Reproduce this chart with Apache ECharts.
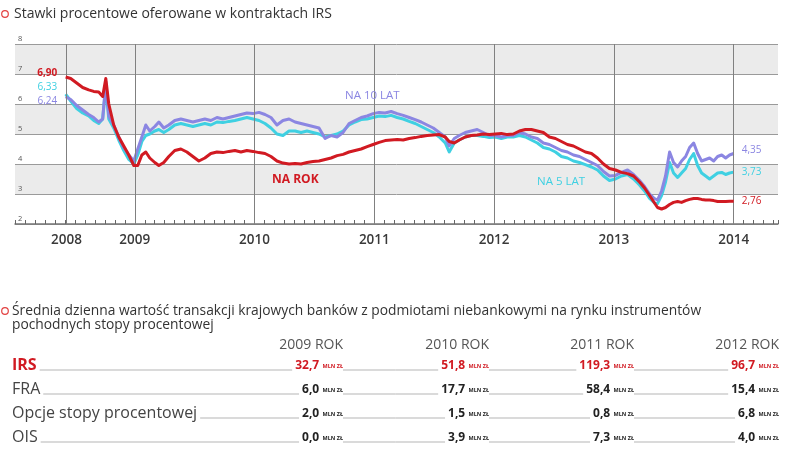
<!DOCTYPE html>
<html><head><meta charset="utf-8">
<script src="https://cdn.jsdelivr.net/npm/echarts@6/dist/echarts.min.js"></script>
<style>html,body{margin:0;padding:0;background:#fff}#c{width:805px;height:456px}</style>
</head><body><div id="c"></div>
<script>
// ---- chart data (decimal years) ----
const dates = [2008.423,2008.465,2008.515,2008.565,2008.615,2008.657,2008.699,2008.732,2008.758,2008.783,2008.824,2008.866,2008.908,2008.950,2008.992,
2009.025,2009.059,2009.092,2009.125,2009.167,2009.201,2009.242,2009.284,2009.334,2009.385,2009.435,2009.485,2009.535,2009.585,2009.635,2009.686,2009.736,2009.786,2009.836,2009.886,2009.936,2009.987,
2010.037,2010.087,2010.137,2010.187,2010.237,2010.288,2010.338,2010.388,2010.438,2010.488,2010.538,2010.589,2010.639,2010.689,2010.739,2010.789,2010.839,2010.890,2010.940,2010.990,
2011.040,2011.090,2011.140,2011.191,2011.241,2011.291,2011.341,2011.391,2011.441,2011.492,2011.542,2011.592,2011.625,2011.667,2011.709,2011.759,2011.809,2011.859,2011.910,2011.960,
2012.010,2012.060,2012.110,2012.160,2012.211,2012.261,2012.311,2012.361,2012.411,2012.461,2012.512,2012.562,2012.612,2012.662,2012.712,2012.762,2012.813,2012.863,2012.913,2012.963,
2013.013,2013.063,2013.114,2013.164,2013.214,2013.256,2013.298,2013.339,2013.364,2013.398,2013.431,2013.465,2013.498,2013.532,2013.565,2013.599,2013.632,2013.666,2013.699,2013.732,2013.766,2013.799,2013.833,2013.866,2013.900,2013.933,2013.966,2014.000];
const rate1y = [6.90,6.85,6.70,6.55,6.47,6.42,6.40,6.25,6.85,6.00,5.30,4.90,4.60,4.30,3.95,
3.95,4.30,4.40,4.20,4.05,3.95,4.05,4.25,4.45,4.50,4.40,4.25,4.10,4.20,4.35,4.40,4.38,4.42,4.45,4.40,4.45,4.42,
4.38,4.35,4.25,4.10,4.03,4.00,4.02,4.00,4.05,4.08,4.10,4.15,4.20,4.28,4.32,4.40,4.45,4.50,4.58,4.65,
4.72,4.78,4.80,4.82,4.80,4.85,4.88,4.92,4.95,4.97,4.98,4.90,4.75,4.70,4.80,4.90,4.95,4.97,5.00,4.98,
5.00,5.02,4.98,5.00,5.10,5.15,5.15,5.10,5.05,4.90,4.85,4.75,4.65,4.60,4.50,4.40,4.35,4.20,4.00,3.85,
3.80,3.72,3.68,3.60,3.40,3.20,2.95,2.70,2.55,2.50,2.55,2.65,2.72,2.75,2.72,2.78,2.82,2.85,2.85,2.82,2.80,2.80,2.78,2.75,2.75,2.75,2.76,2.76];
const rate5y = [6.33,6.10,5.85,5.70,5.60,5.45,5.35,5.50,6.60,5.50,5.20,4.80,4.45,4.15,4.00,
4.30,4.75,4.95,5.00,5.10,5.15,5.05,5.15,5.30,5.35,5.30,5.25,5.30,5.35,5.30,5.40,5.38,5.42,5.45,5.50,5.55,5.50,
5.45,5.35,5.20,5.00,4.95,5.10,5.10,5.05,5.10,5.05,5.00,4.90,4.95,5.00,5.10,5.30,5.40,5.48,5.50,5.55,
5.60,5.58,5.62,5.55,5.50,5.42,5.35,5.25,5.15,5.05,4.90,4.70,4.40,4.70,4.80,4.90,4.95,4.95,4.92,4.88,
4.90,4.85,4.90,4.90,4.95,4.90,4.80,4.70,4.55,4.50,4.40,4.25,4.20,4.10,4.05,3.98,3.90,3.80,3.60,3.45,
3.50,3.60,3.65,3.50,3.30,3.10,2.85,2.70,2.68,2.95,3.40,4.05,3.70,3.55,3.70,3.85,4.15,4.35,3.95,3.70,3.60,3.50,3.60,3.70,3.72,3.65,3.70,3.73];
const rate10y = [6.24,6.15,5.95,5.80,5.65,5.55,5.40,5.50,6.75,5.60,5.30,4.90,4.55,4.30,4.10,
4.50,4.90,5.30,5.10,5.25,5.40,5.20,5.30,5.45,5.50,5.45,5.40,5.45,5.50,5.45,5.55,5.50,5.55,5.60,5.65,5.70,5.68,
5.72,5.65,5.55,5.30,5.45,5.50,5.40,5.35,5.30,5.25,5.20,4.85,4.95,4.90,5.05,5.35,5.45,5.55,5.60,5.68,
5.72,5.70,5.75,5.68,5.62,5.55,5.48,5.40,5.30,5.20,5.05,4.90,4.60,4.85,4.95,5.05,5.10,5.15,5.05,4.95,
4.95,4.90,4.95,4.95,5.05,5.00,4.90,4.85,4.70,4.65,4.55,4.45,4.40,4.30,4.25,4.15,4.05,3.95,3.75,3.60,
3.62,3.72,3.80,3.65,3.45,3.25,3.00,2.85,2.80,3.10,3.60,4.40,4.05,3.90,4.10,4.25,4.55,4.70,4.35,4.10,4.15,4.20,4.10,4.25,4.30,4.20,4.30,4.35];
const yearTickPos = [2008.43, 2009, 2010, 2011, 2012, 2013, 2014];
const yearTickLabels = ['2008','2009','2010','2011','2012','2013','2014'];
const seriesNames = ['NA 5 LAT','NA 10 LAT','NA ROK'];
const chartTitle = 'Stawki procentowe oferowane w kontraktach IRS';

// ---- table data ----
const tableTitle1 = 'Średnia dzienna wartość transakcji krajowych banków z podmiotami niebankowymi na rynku instrumentów';
const tableTitle2 = 'pochodnych stopy procentowej';
const tableYears = ['2009 ROK','2010 ROK','2011 ROK','2012 ROK'];
const rowNames = ['IRS','FRA','Opcje stopy procentowej','OIS'];
const irsVals = [32.7, 51.8, 119.3, 96.7];
const fraVals = [6.0, 17.7, 58.4, 15.4];
const opcjeVals = [2.0, 1.5, 0.8, 6.8];
const oisVals = [0.0, 3.9, 7.3, 4.0];
const unit = 'MLN ZŁ';

const FONT = '"Open Sans", "Noto Sans", sans-serif';
const RED = '#d11a22', CYAN = '#3fd0e2', PURPLE = '#8b86e2';
const fmt = v => v.toFixed(2).replace('.', ',');
const fmt1 = v => v.toFixed(1).replace('.', ',');
const X_MIN = 2008, X_MAX = 2014.37;

function lineSeries(name, vals, color, z, startLabel, endOffset) {
  return {
    name, type: 'line', z, xAxisIndex: 0, showSymbol: false, symbol: 'none',
    data: dates.map((d, i) => [d, vals[i]]),
    lineStyle: { color, width: 3, join: 'round' },
    itemStyle: { color },
    endLabel: { show: true, formatter: p => fmt(p.value[1]), color, fontFamily: FONT, fontSize: 10, distance: 8, offset: endOffset },
    markPoint: {
      symbol: 'circle', symbolSize: 1, silent: true, animation: false,
      itemStyle: { color: 'rgba(0,0,0,0)' },
      label: Object.assign({ show: true, position: 'left', distance: 8, formatter: p => fmt(p.value),
        color, fontFamily: FONT, fontSize: 10 }, startLabel),
      data: [{ coord: [dates[0], vals[0]], value: vals[0] }]
    },
    emphasis: { disabled: true }, animation: false
  };
}

const graphics = [];
function icon(y) {
  graphics.push({ type: 'circle', z: 100, shape: { cx: 5, cy: y, r: 3.3 }, style: { fill: 'none', stroke: '#e24040', lineWidth: 1.2 } });
}
icon(14); icon(311);
graphics.push({ type: 'text', z: 100, style: { text: chartTitle, x: 14, y: 14, verticalAlign: 'middle', font: '14px ' + FONT, fill: '#333' } });
graphics.push({ type: 'text', z: 100, style: { text: seriesNames[1], x: 345, y: 96, verticalAlign: 'middle', font: '11.5px ' + FONT, fill: PURPLE } });
graphics.push({ type: 'text', z: 100, style: { text: seriesNames[2], x: 272, y: 180, verticalAlign: 'middle', font: 'bold 12px ' + FONT, fill: RED } });
graphics.push({ type: 'text', z: 100, style: { text: seriesNames[0], x: 537, y: 182, verticalAlign: 'middle', font: '11.5px ' + FONT, fill: CYAN } });
// table
graphics.push({ type: 'text', z: 100, style: { text: tableTitle1, x: 12, y: 311, verticalAlign: 'middle', font: '13.8px ' + FONT, fill: '#333' } });
graphics.push({ type: 'text', z: 100, style: { text: tableTitle2, x: 12, y: 325, verticalAlign: 'middle', font: '13.8px ' + FONT, fill: '#333' } });
const colRight = [343, 489, 634, 779];
tableYears.forEach((t, i) => graphics.push({ type: 'text', z: 100, style: { text: t, x: colRight[i], y: 345, align: 'right', verticalAlign: 'middle', font: '14px ' + FONT, fill: '#555' } }));
const rows = [irsVals, fraVals, opcjeVals, oisVals];
const rowY = [365, 389, 413, 437];
rows.forEach((vals, r) => {
  const y = rowY[r];
  const isRed = r === 0;
  const col = isRed ? RED : '#222';
  graphics.push({ type: 'line', z: 100, shape: { x1: 12, y1: y + 5, x2: 779, y2: y + 5 }, style: { stroke: '#b5b5b5', lineWidth: 1 } });
  graphics.push({ type: 'text', z: 101, style: { text: rowNames[r], x: 12, y: y, verticalAlign: 'middle',
    font: (isRed ? 'bold ' : '') + '16px ' + FONT, fill: isRed ? RED : '#444', backgroundColor: '#fff', padding: [0, 3, 0, 0] } });
  vals.forEach((v, i) => {
    graphics.push({ type: 'text', z: 101, style: {
      text: '{v|' + fmt1(v) + '} {u|' + unit + '}', x: colRight[i], y: y + 1, align: 'right', verticalAlign: 'middle',
      backgroundColor: '#fff', padding: [0, 0, 0, 3], fill: col,
      rich: { v: { fontWeight: 'bold', fontSize: 12, fontFamily: FONT, fill: col },
              u: { fontSize: 5.5, fontFamily: FONT, fill: col, fontWeight: 'bold' } } } });
  });
});

const chart = echarts.init(document.getElementById('c'), null, { renderer: 'canvas' });
chart.setOption({
  animation: false,
  backgroundColor: '#fff',
  grid: { left: 15, right: 27, top: 44, bottom: 232, containLabel: false },
  xAxis: [{
    type: 'value', min: X_MIN, max: X_MAX, position: 'bottom',
    splitLine: { show: false },
    axisLine: { show: true, lineStyle: { color: '#777', width: 1.5 } },
    axisTick: { show: false },
    axisLabel: { customValues: yearTickPos, margin: 9, fontFamily: FONT, fontSize: 13.5, fontWeight: 600, color: '#3a3a3a',
      formatter: v => { const i = yearTickPos.findIndex(p => Math.abs(p - v) < 1e-6); return i >= 0 ? yearTickLabels[i] : ''; } }
  }, {
    // monthly tick marks along the bottom
    type: 'value', min: X_MIN, max: X_MAX, interval: 1 / 12, position: 'bottom', offset: 0,
    splitLine: { show: false }, axisLabel: { show: false },
    axisLine: { show: false, onZero: false },
    axisTick: { show: true, inside: true, length: 4, lineStyle: { color: '#666', width: 1 } }
  }],
  yAxis: {
    type: 'value', min: 2, max: 8, interval: 1,
    axisLine: { show: false }, axisTick: { show: false },
    splitLine: { show: true, lineStyle: { color: '#9a9a9a', width: 1 } },
    splitArea: { show: true, areaStyle: { color: ['rgba(255,255,255,0)', '#ebebeb'] } },
    axisLabel: { inside: true, margin: 3, verticalAlign: 'bottom', fontFamily: FONT, fontSize: 7.5, color: '#555', padding: [0, 0, 1, 0] }
  },
  series: [
    { type: 'line', z: 1, xAxisIndex: 0, data: [], silent: true,
      markLine: { silent: true, symbol: 'none', animation: false, label: { show: false },
        lineStyle: { color: '#808080', width: 1, type: 'solid' },
        data: yearTickPos.map(v => ({ xAxis: v })) } },
    lineSeries(seriesNames[0], rate5y, CYAN, 3, { offset: [0, -7] }, [0, 0]),
    lineSeries(seriesNames[1], rate10y, PURPLE, 4, { offset: [0, 4] }, [0, -3]),
    lineSeries(seriesNames[2], rate1y, RED, 5, { offset: [0, -4], fontWeight: 'bold' }, [0, 0])
  ],
  graphic: graphics
});
</script></body></html>
